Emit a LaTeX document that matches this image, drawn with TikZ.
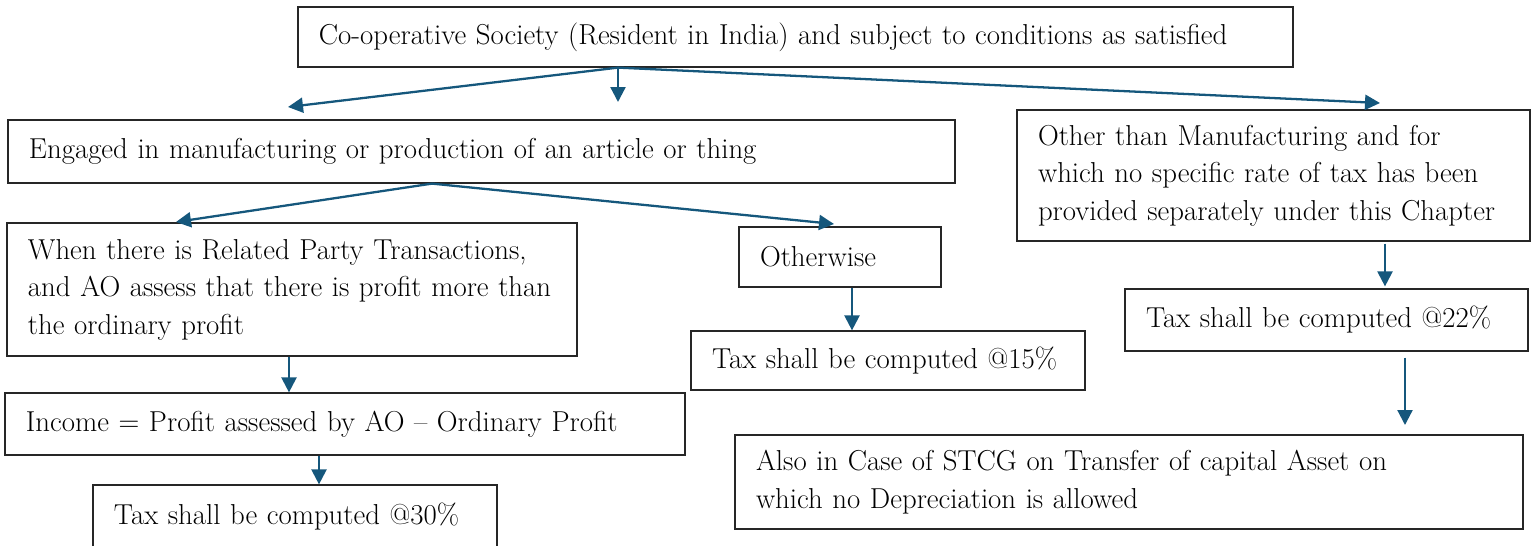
\documentclass[tikz,border=0pt]{standalone}
\usepackage{fontspec}
\setmainfont{Latin Modern Roman}
\usetikzlibrary{arrows.meta}
\definecolor{arrowc}{RGB}{21,87,124}
\begin{document}
\begin{tikzpicture}[x=0.02cm,y=-0.02cm,
  box/.style={draw=black!85,line width=0.7pt,inner xsep=0.42cm,inner ysep=0pt,align=left,font=\fontsize{16.4}{21.3}\selectfont},
  wh/.code 2 args={\pgfmathsetmacro\tw{(#1-42)*0.02}\tikzset{minimum width=#1*0.02cm,minimum height=#2*0.02cm,text width=\tw cm}},
  arr/.style={draw=arrowc,line width=1.3pt,-{Triangle[length=0.3cm,width=0.3cm]},arrowc}]
\useasboundingbox (0,0) rectangle (1536,545);
\node[box,wh={995}{60}] (top) at (795.5,37) {Co-operative Society (Resident in India) and subject to conditions as satisfied};
\node[box,wh={947}{63}] (A) at (481.5,151.5) {Engaged in manufacturing or production of an article or thing};
\node[box,wh={513}{131}] (B) at (1273.5,175.5) {Other than Manufacturing and for\\which no specific rate of tax has been\\provided separately under this Chapter};
\node[box,wh={570}{133}] (C) at (292,289.5) {When there is Related Party Transactions,\\and AO assess that there is profit more than\\the ordinary profit};
\node[box,wh={202}{60}] (D) at (840,257) {Otherwise};
\node[box,wh={394}{59}] (E) at (888,360.5) {Tax shall be computed @15\%};
\node[box,wh={403}{62}] (F) at (1326.5,320) {Tax shall be computed @22\%};
\node[box,wh={680}{62}] (G) at (345,424) {Income = Profit assessed by AO -- Ordinary Profit};
\node[box,wh={404}{64}] (H) at (295,517) {Tax shall be computed @30\%};
\node[box,wh={788}{94}] (I) at (1129,482) {Also in Case of STCG on Transfer of capital Asset on\\which no Depreciation is allowed};
% junction points and free ends
\coordinate (j1x) at (618,0);
\coordinate (j1) at (top.south -| j1x);
\coordinate (t1) at (288,107);
\coordinate (t2) at (618,102);
\coordinate (t3) at (1380,103);
\coordinate (j2x) at (432,0);
\coordinate (j2) at (A.south -| j2x);
\coordinate (t4) at (176,222);
\coordinate (t5) at (834,224);
\coordinate (cgx) at (289,0);
\coordinate (dex) at (852,0);
\coordinate (ghx) at (319,0);
\coordinate (bfx) at (1385,0);
\coordinate (fix) at (1405,0);
\coordinate (t6) at (1405,425);
\draw[arr] (j1) -- (t1);
\draw[arr] (j1) -- (t2);
\draw[arr] (j1) -- (t3);
\draw[arr] (j2) -- (t4);
\draw[arr] (j2) -- (t5);
\draw[arr] (C.south -| cgx) -- (G.north -| cgx);
\draw[arr] (D.south -| dex) -- (E.north -| dex);
\draw[arr] (G.south -| ghx) -- (H.north -| ghx);
\draw[arr] ([yshift=-0.04cm]B.south -| bfx) -- ([yshift=0.04cm]F.north -| bfx);
\draw[arr] ([yshift=-0.12cm]F.south -| fix) -- (t6);
\end{tikzpicture}
\end{document}
